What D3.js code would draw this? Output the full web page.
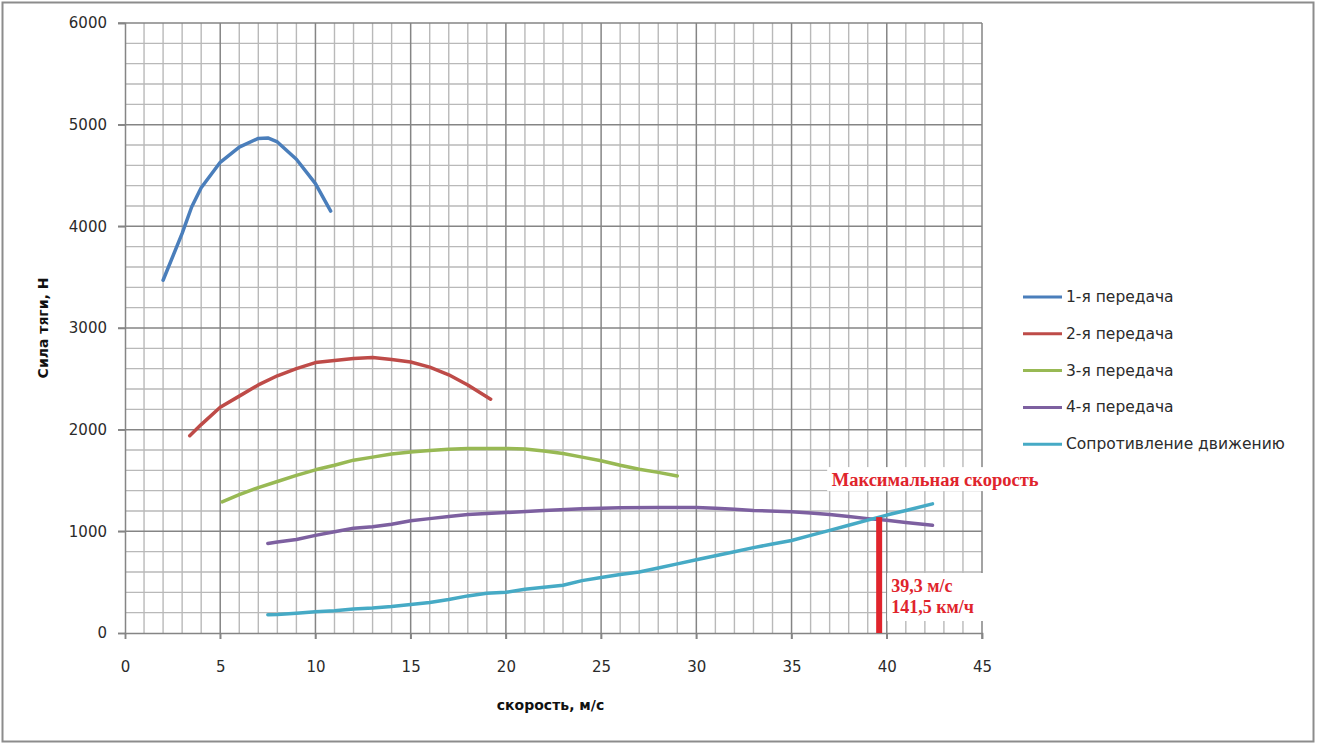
<!DOCTYPE html>
<html>
<head>
<meta charset="utf-8">
<script src="https://cdn.jsdelivr.net/npm/d3@7"></script>
<style>
    body { margin: 0; background: #fff; }
    svg { display: block; }
</style>
</head>
<body>
<div id="chart"></div>
<script>
// --- data ---
const xTicks = [0, 5, 10, 15, 20, 25, 30, 35, 40, 45];
const yTicks = [0, 1000, 2000, 3000, 4000, 5000, 6000];

const seriesNames = ["1-я передача", "2-я передача", "3-я передача", "4-я передача", "Сопротивление движению"];
const seriesColors = ["#4a7ebb", "#be4b48", "#98b954", "#7d60a0", "#46aac5"];

const gear1 = [[2, 3470], [3, 3930], [3.5, 4190], [4, 4380], [5, 4630], [6, 4780], [7, 4865], [7.5, 4870],
    [8, 4830], [9, 4660], [10, 4420], [10.8, 4150]];
const gear2 = [[3.4, 1940], [4, 2050], [5, 2220], [6, 2330], [7, 2440], [8, 2530], [9, 2600], [10, 2660],
    [11, 2680], [12, 2700], [13, 2710], [14, 2690], [15, 2665], [16, 2615], [17, 2540], [18, 2440], [19.2, 2300]];
const gear3 = [[5.1, 1290], [6, 1360], [7, 1430], [8, 1490], [9, 1550], [10, 1605], [11, 1650], [12, 1700],
    [13, 1730], [14, 1760], [15, 1780], [16, 1795], [17, 1808], [18, 1815], [20, 1815], [21, 1810],
    [22, 1790], [23, 1765], [24, 1730], [25, 1695], [26, 1650], [27, 1610], [28, 1580], [29, 1545]];
const gear4 = [[7.5, 880], [8, 895], [9, 920], [10, 960], [11, 995], [12, 1030], [13, 1045], [14, 1070],
    [15, 1105], [16, 1125], [17, 1145], [18, 1165], [19, 1175], [20, 1185], [22, 1205], [24, 1222],
    [26, 1232], [28, 1234], [30, 1235], [31, 1228], [32, 1218], [33, 1205], [35, 1192], [36, 1180],
    [37, 1165], [38, 1145], [39, 1125], [40, 1108], [41, 1088], [42.4, 1060]];
const resistance = [[7.5, 180], [8, 182], [9, 195], [10, 210], [11, 220], [12, 235], [13, 245], [14, 260],
    [15, 280], [16, 300], [17, 330], [18, 365], [19, 390], [20, 400], [21, 430], [22, 450], [23, 470],
    [24, 515], [25, 545], [26, 575], [27, 600], [28, 640], [29, 680], [30, 720], [31, 760], [32, 800],
    [33, 840], [34, 875], [35, 910], [36, 960], [37, 1010], [38, 1060], [39, 1110], [40, 1160],
    [41, 1205], [42.4, 1270]];

const maxSpeedBar = { x: 39.6, top: 1140 };
const maxSpeedTitle = "Максимальная скорость";
const maxSpeedLines = ["39,3 м/с", "141,5 км/ч"];

const allSeries = [gear1, gear2, gear3, gear4, resistance];

// --- drawing ---
const W = 1320, H = 748;
const margin = { top: 23, right: 338, bottom: 115, left: 125 };
const width = W - margin.left - margin.right;
const height = H - margin.top - margin.bottom;

const svg = d3.select("#chart").append("svg")
    .attr("width", W)
    .attr("height", H);

// outer chart frame
svg.append("rect")
    .attr("x", 2.5).attr("y", 2.5)
    .attr("width", 1311).attr("height", 739)
    .attr("fill", "#fff")
    .attr("stroke", "#8c8c8c")
    .attr("stroke-width", 2);

const g = svg.append("g")
    .attr("transform", "translate(" + margin.left + "," + margin.top + ")");

const x = d3.scaleLinear().domain([0, 45]).range([0, width]);
const y = d3.scaleLinear().domain([0, 6000]).range([height, 0]);

// minor grid
g.append("g").selectAll("line")
    .data(d3.range(1, 46).filter(v => v % 5 !== 0))
    .join("line")
    .attr("x1", d => x(d)).attr("x2", d => x(d))
    .attr("y1", 0).attr("y2", height)
    .attr("stroke", "#b9b9b9").attr("stroke-width", 1.4);

g.append("g").selectAll("line")
    .data(d3.range(200, 6001, 200).filter(v => v % 1000 !== 0))
    .join("line")
    .attr("x1", 0).attr("x2", width)
    .attr("y1", d => y(d)).attr("y2", d => y(d))
    .attr("stroke", "#b9b9b9").attr("stroke-width", 1.4);

// major grid
g.append("g").selectAll("line")
    .data(xTicks.slice(1))
    .join("line")
    .attr("x1", d => x(d)).attr("x2", d => x(d))
    .attr("y1", 0).attr("y2", height + 6)
    .attr("stroke", "#858585").attr("stroke-width", 1.5);

g.append("g").selectAll("line")
    .data(yTicks.slice(1))
    .join("line")
    .attr("x1", -7).attr("x2", width)
    .attr("y1", d => y(d)).attr("y2", d => y(d))
    .attr("stroke", "#858585").attr("stroke-width", 1.5);

// axes
const xAxis = d3.axisBottom(x).tickValues(xTicks).tickSize(6).tickPadding(22).tickFormat(d3.format("d"));
const yAxis = d3.axisLeft(y).tickValues(yTicks).tickSize(7).tickPadding(11).tickFormat(d3.format("d"));

g.append("g")
    .attr("class", "x-axis axis")
    .attr("transform", "translate(0," + height + ")")
    .call(xAxis);

g.append("g")
    .attr("class", "y-axis axis")
    .call(yAxis);

g.selectAll(".axis .domain").attr("stroke", "#858585").attr("stroke-width", 1.5);
g.selectAll(".axis .tick line").attr("stroke", "#858585").attr("stroke-width", 1.5);
g.selectAll(".axis text")
    .attr("font-family", "DejaVu Sans, sans-serif")
    .attr("font-size", 15)
    .attr("fill", "#2b2b2b");

// axis titles
g.append("text")
    .attr("x", x(22.5) - 3)
    .attr("y", height + 77)
    .attr("text-anchor", "middle")
    .attr("font-family", "DejaVu Sans, sans-serif")
    .attr("font-weight", "bold")
    .attr("font-size", 14)
    .attr("fill", "#111")
    .text("скорость, м/с");

g.append("text")
    .attr("transform", "translate(-77," + (height / 2) + ") rotate(-90)")
    .attr("text-anchor", "middle")
    .attr("font-family", "DejaVu Sans, sans-serif")
    .attr("font-weight", "bold")
    .attr("font-size", 14)
    .attr("fill", "#111")
    .text("Сила тяги, Н");

// series lines
const line = d3.line()
    .x(d => x(d[0]))
    .y(d => y(d[1]));

g.append("g").selectAll("path")
    .data(allSeries)
    .join("path")
    .attr("d", line)
    .attr("fill", "none")
    .attr("stroke", (d, i) => seriesColors[i])
    .attr("stroke-width", 3.5)
    .attr("stroke-linejoin", "round")
    .attr("stroke-linecap", "round");

// max speed annotation
const red = "#e0242c";
g.append("line")
    .attr("x1", x(maxSpeedBar.x)).attr("x2", x(maxSpeedBar.x))
    .attr("y1", y(maxSpeedBar.top)).attr("y2", y(0))
    .attr("stroke", red)
    .attr("stroke-width", 6);

const titleG = g.append("g")
    .attr("transform", "translate(" + (x(maxSpeedBar.x) + 56) + "," + (y(maxSpeedBar.top) - 36) + ")");
titleG.append("rect")
    .attr("x", -108).attr("y", -14)
    .attr("width", 216).attr("height", 24)
    .attr("fill", "#fff");
titleG.append("text")
    .attr("text-anchor", "middle")
    .attr("y", 5)
    .attr("font-family", "Liberation Serif, serif")
    .attr("font-weight", "bold")
    .attr("font-size", 18.5)
    .attr("fill", red)
    .text(maxSpeedTitle);

const valG = g.append("g")
    .attr("transform", "translate(" + (x(maxSpeedBar.x) + 8) + "," + (y(0) - 60) + ")");
valG.append("rect")
    .attr("x", 0).attr("y", 0)
    .attr("width", 98).attr("height", 48)
    .attr("fill", "#fff");
valG.selectAll("text")
    .data(maxSpeedLines)
    .join("text")
    .attr("x", 4)
    .attr("y", (d, i) => 19 + i * 21)
    .attr("font-family", "Liberation Serif, serif")
    .attr("font-weight", "bold")
    .attr("font-size", 18)
    .attr("fill", red)
    .text(d => d);

// legend
const legend = svg.append("g")
    .attr("transform", "translate(1023,297)");

const items = legend.selectAll("g")
    .data(seriesNames)
    .join("g")
    .attr("transform", (d, i) => "translate(0," + (i * 36.8) + ")");

items.append("line")
    .attr("x1", 0).attr("x2", 39)
    .attr("y1", 0).attr("y2", 0)
    .attr("stroke", (d, i) => seriesColors[i])
    .attr("stroke-width", 3);

items.append("text")
    .attr("x", 43)
    .attr("y", 5)
    .attr("font-family", "DejaVu Sans, sans-serif")
    .attr("font-size", 15.5)
    .attr("fill", "#2b2b2b")
    .text(d => d);
</script>
</body>
</html>
